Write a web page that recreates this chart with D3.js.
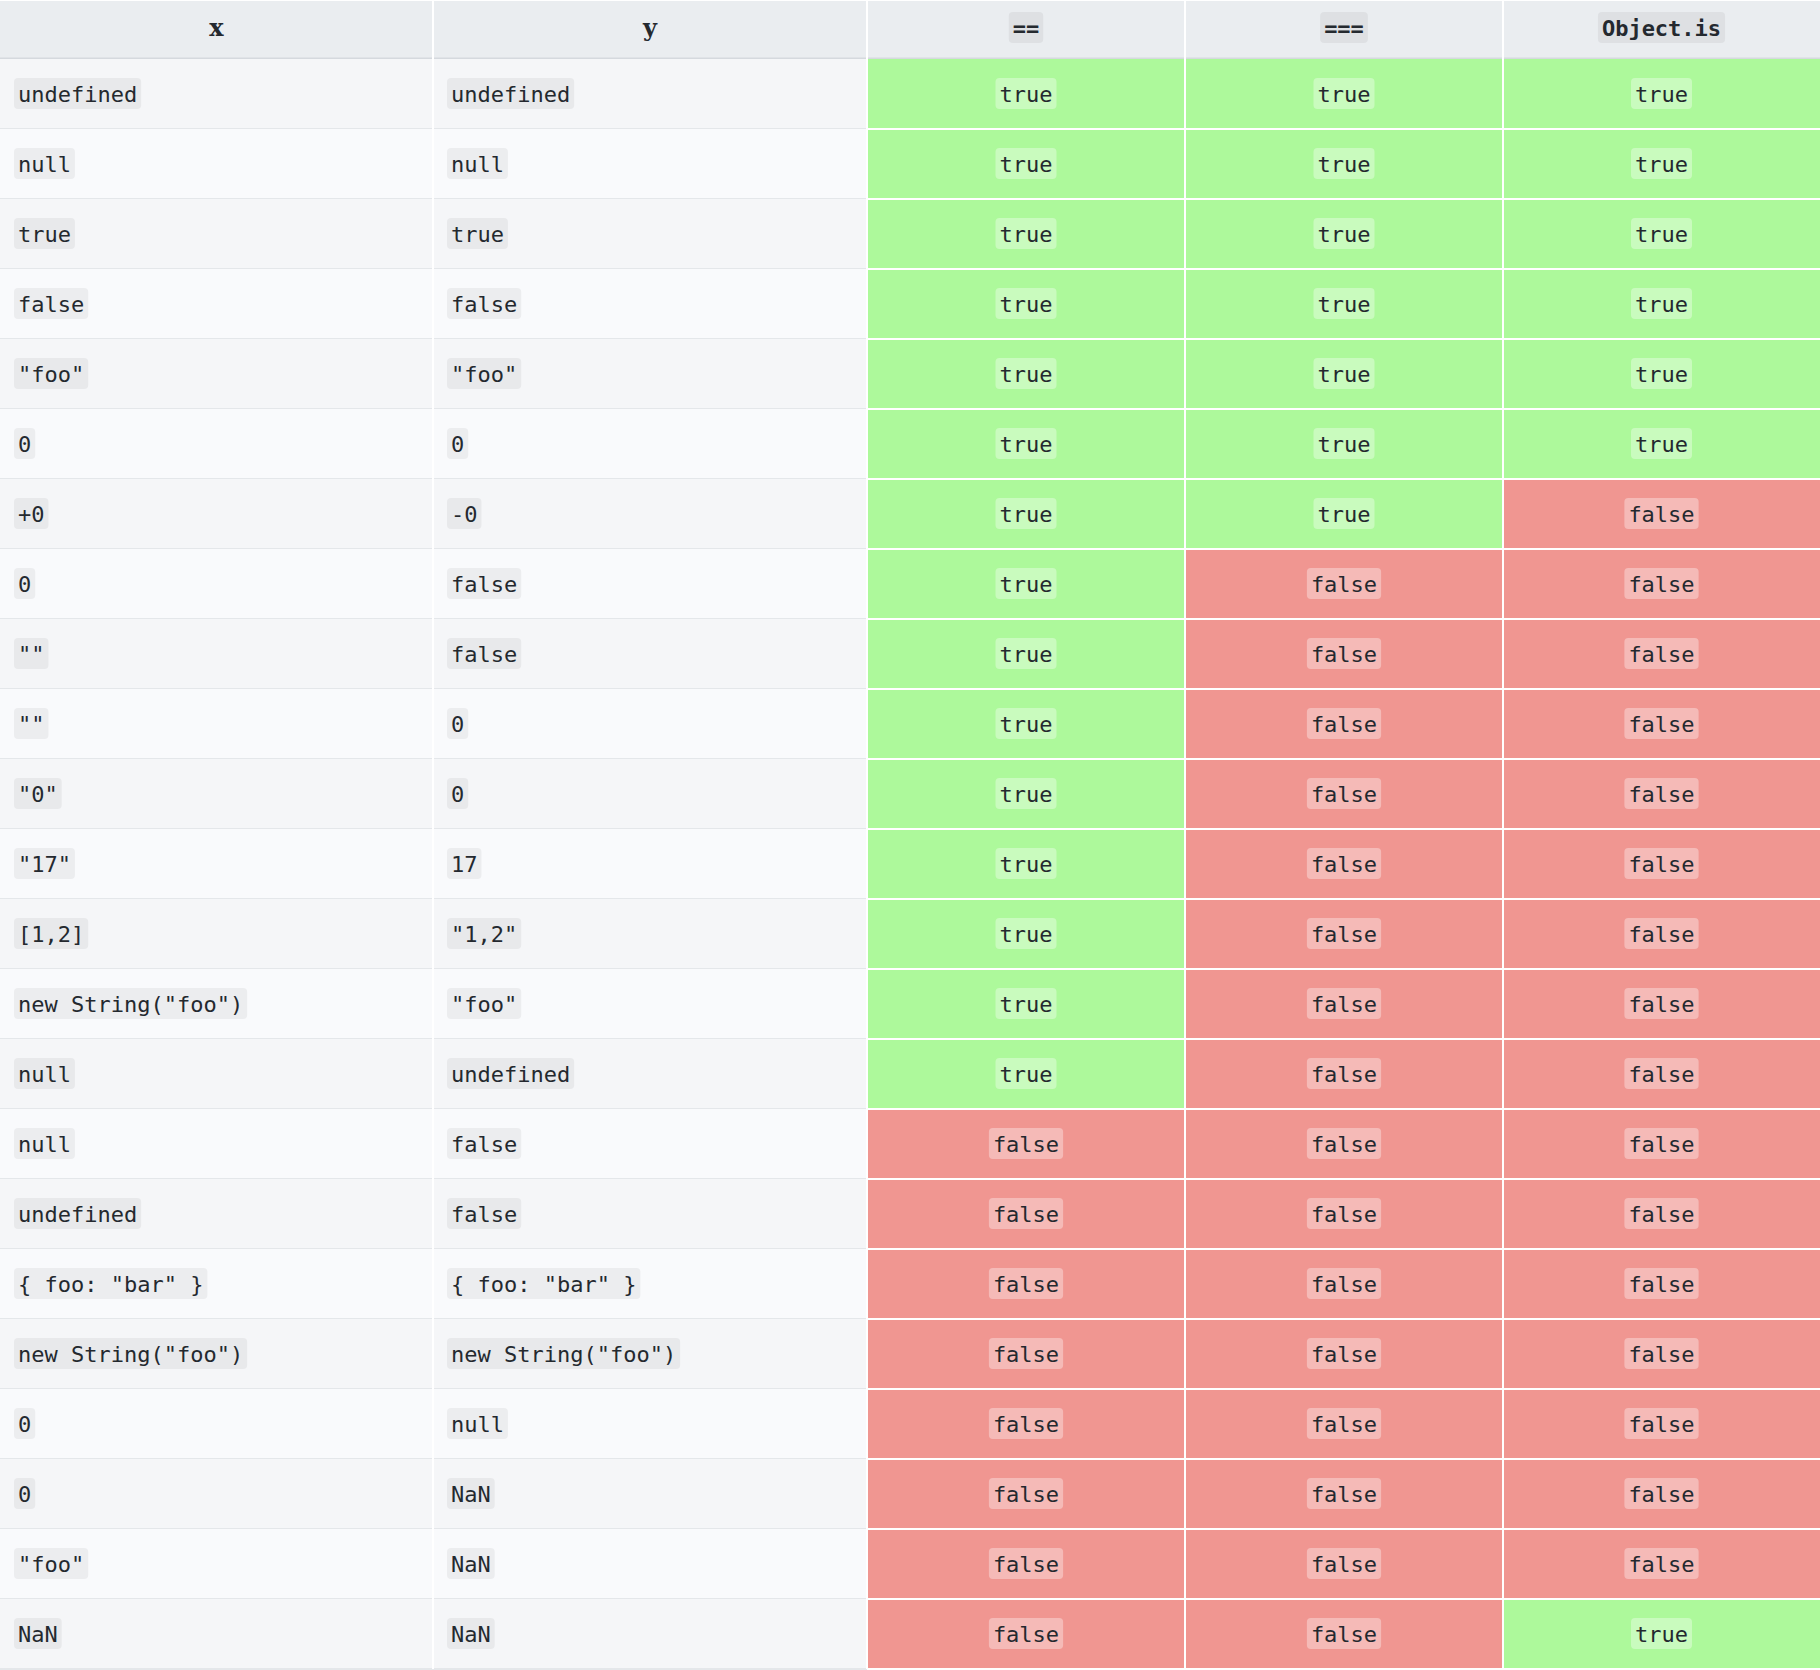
<!DOCTYPE html>
<html><head><meta charset="utf-8">
<script src="https://cdn.jsdelivr.net/npm/d3@7"></script>
<style>body{margin:0;background:#fff}svg{display:block}</style>
</head><body><svg id="chart" width="1820" height="1670"></svg>
<script>
// table content
const columns = ['x', 'y', '==', '===', 'Object.is'];
const xs = ['undefined','null','true','false','"foo"','0','+0','0','""','""','"0"','"17"','[1,2]','new String("foo")','null','null','undefined','{ foo: "bar" }','new String("foo")','0','0','"foo"','NaN'];
const ys = ['undefined','null','true','false','"foo"','0','-0','false','false','0','0','17','"1,2"','"foo"','undefined','false','false','{ foo: "bar" }','new String("foo")','null','NaN','NaN','NaN'];
const looseEq = [1,1,1,1,1,1,1,1,1,1,1,1,1,1,1,0,0,0,0,0,0,0,0];
const strictEq = [1,1,1,1,1,1,1,0,0,0,0,0,0,0,0,0,0,0,0,0,0,0,0];
const objectIs = [1,1,1,1,1,1,0,0,0,0,0,0,0,0,0,0,0,0,0,0,0,0,1];

const svg = d3.select('#chart');
const colEdges = [0, 433, 867, 1185, 1503, 1820];
const headerH = 58, rowH = 70, topY = 1;
const green = '#adf99b', red = '#f09691';
const mono = '"DejaVu Sans Mono", monospace';

const y = d3.scaleBand().domain(d3.range(xs.length)).range([topY + headerH, topY + headerH + xs.length * rowH]);

// measure helper for code boxes
const meas = svg.append('text').attr('font-family', mono).attr('font-size', 22).attr('visibility', 'hidden');
function textW(s, bold) { meas.attr('font-weight', bold ? 'bold' : 'normal').text(s); return meas.node().getComputedTextLength(); }

function codeCell(g, s, cx, cy, anchor, boxFill, bold) {
  const w = textW(s, bold);
  const x0 = anchor === 'middle' ? cx - w / 2 : cx;
  g.append('rect').attr('x', x0 - 4).attr('y', cy - 16).attr('width', w + 8).attr('height', 31)
    .attr('rx', 4).attr('fill', boxFill);
  g.append('text').attr('x', x0).attr('y', cy + 8).attr('font-family', mono).attr('font-size', 22)
    .attr('font-weight', bold ? 'bold' : 'normal').attr('fill', '#24292f').text(s);
}

// header
svg.append('rect').attr('x', 0).attr('y', topY).attr('width', 1820).attr('height', headerH).attr('fill', '#eaedf0');
columns.forEach((c, i) => {
  const cx = (colEdges[i] + colEdges[i + 1]) / 2;
  if (i < 2) {
    svg.append('text').attr('x', cx).attr('y', topY + 35).attr('text-anchor', 'middle')
      .attr('font-family', '"DejaVu Serif", serif').attr('font-weight', 'bold').attr('font-size', 24)
      .attr('fill', '#24292f').text(c);
  } else {
    codeCell(svg.append('g'), c, cx, topY + 27, 'middle', 'rgba(0,0,0,0.05)', true);
  }
});
svg.append('line').attr('x1', 0).attr('x2', 1820).attr('y1', topY + headerH).attr('y2', topY + headerH)
  .attr('stroke', '#d5d9de').attr('stroke-width', 3);

// rows
xs.forEach((xv, r) => {
  const ry = y(r), cy = ry + rowH / 2;
  const g = svg.append('g');
  g.append('rect').attr('x', 0).attr('y', ry).attr('width', colEdges[2]).attr('height', rowH)
    .attr('fill', r % 2 === 0 ? '#f5f6f8' : '#f9fafc');
  g.append('line').attr('x1', 0).attr('x2', colEdges[2]).attr('y1', ry + rowH).attr('y2', ry + rowH)
    .attr('stroke', '#e4e7ea').attr('stroke-width', 2);
  codeCell(g, xv, 18, cy, 'start', 'rgba(0,0,0,0.05)');
  codeCell(g, ys[r], colEdges[1] + 18, cy, 'start', 'rgba(0,0,0,0.05)');
  [looseEq, strictEq, objectIs].forEach((arr, k) => {
    const c = k + 2;
    g.append('rect').attr('x', colEdges[c]).attr('y', ry).attr('width', colEdges[c + 1] - colEdges[c]).attr('height', rowH)
      .attr('fill', arr[r] ? green : red);
    codeCell(g, arr[r] ? 'true' : 'false', (colEdges[c] + colEdges[c + 1]) / 2, cy, 'middle', 'rgba(255,255,255,0.35)');
  });
});

// white grid lines
colEdges.slice(1, -1).forEach(x => {
  svg.append('line').attr('x1', x).attr('x2', x).attr('y1', topY).attr('y2', topY + headerH + xs.length * rowH)
    .attr('stroke', '#fff').attr('stroke-width', 2);
});
d3.range(xs.length).forEach(r => {
  svg.append('line').attr('x1', colEdges[2]).attr('x2', 1820).attr('y1', y(r) + rowH).attr('y2', y(r) + rowH)
    .attr('stroke', '#fff').attr('stroke-width', 2);
});
meas.remove();
</script></body></html>
